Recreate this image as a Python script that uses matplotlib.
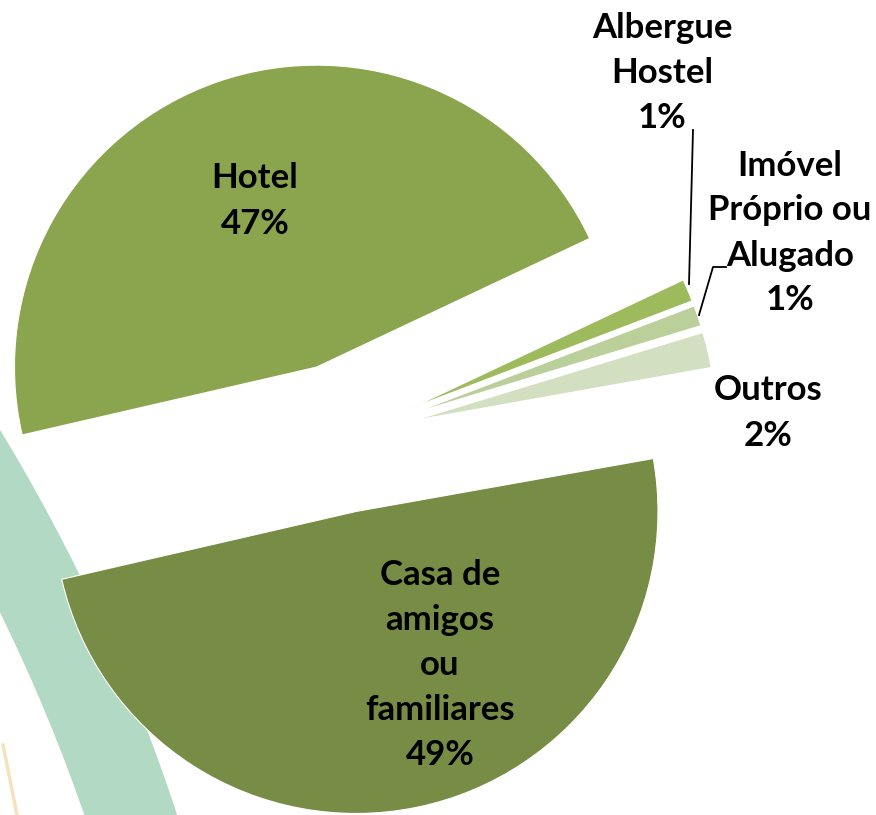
import matplotlib
matplotlib.use("Agg")
import matplotlib.pyplot as plt
from matplotlib.patches import Wedge

# ---- data ----
categories = ["Outros", "Imóvel\nPróprio ou\nAlugado", "Albergue\nHostel", "Hotel",
              "Casa de\namigos\nou\nfamiliares"]
values = [1.9, 1.1, 1.2, 46.6, 49.2]
colors = ["#D2DFC1", "#BACF99", "#9DBB5C", "#8BA54F", "#778C44"]

# ---- layout / style ----
W, H = 876, 815
pie_center_px = (341, 438)
pie_radius = 302
explode_px = 75
label_pos_px = [(768, 413), (790, 233), (662, 73), (255, 201), (440, 665)]
leaders_px = [
    [(689, 284), (693, 130)],
    [(699, 315), (713, 267), (726, 267)],
]

fig = plt.figure(figsize=(W / 100, H / 100), dpi=100)
ax = fig.add_axes([0, 0, 1, 1])

# background decoration (teal band + faint orange streak)
band = Wedge((-1572, H - 1386), 1840, 0, 60, width=88,
             facecolor="#B2D9C3", edgecolor="none", zorder=0)
ax.add_patch(band)
ax.plot([3, 17], [H - 745, H - 815], color="#EBC77A", lw=2.5, alpha=0.5, zorder=0)

wedges, _ = ax.pie(values, colors=colors, startangle=10.1, counterclock=True,
                   explode=[explode_px] * len(values), radius=pie_radius,
                   center=(pie_center_px[0], H - pie_center_px[1]),
                   wedgeprops=dict(edgecolor="white", linewidth=0.8))
for w in wedges:
    w.set_zorder(2)

for cat, v, (x, y) in zip(categories, values, label_pos_px):
    ax.text(x, H - y, f"{cat}\n{round(v)}%", ha="center", va="center",
            fontsize=25, fontweight="bold", family=["Lato", "DejaVu Sans"],
            linespacing=1.5, color="black", zorder=5)

for pts in leaders_px:
    xs = [p[0] for p in pts]
    ys = [H - p[1] for p in pts]
    ax.plot(xs, ys, color="black", lw=1.3, zorder=4)

ax.set_xlim(0, W)
ax.set_ylim(0, H)
ax.set_aspect("equal")
ax.axis("off")

fig.savefig("out.png", dpi=100)
